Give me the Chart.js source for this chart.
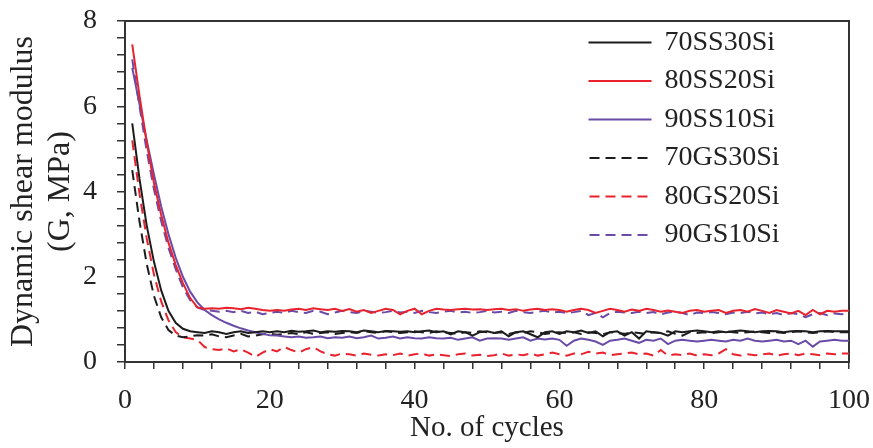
<!DOCTYPE html>
<html>
<head>
<meta charset="utf-8">
<script src="https://cdn.jsdelivr.net/npm/chart.js@4.4.1/dist/chart.umd.min.js"></script>
<style>
  html, body { margin: 0; padding: 0; background: #fff; }
  #wrap { width: 873px; height: 448px; position: relative; }
</style>
</head>
<body>
<div id="wrap"><canvas id="c"></canvas></div>
<script>
const cycles = Array.from({length: 100}, (_, i) => i + 1);

const s70SS30Si = [
  5.6, 4.3, 3.2, 2.35, 1.68, 1.2, 0.92, 0.78, 0.72, 0.7,
  0.68, 0.72, 0.7, 0.66, 0.7, 0.72, 0.68, 0.7, 0.72, 0.7,
  0.72, 0.7, 0.73, 0.71, 0.72, 0.74, 0.7, 0.72, 0.71, 0.73,
  0.72, 0.7, 0.74, 0.72, 0.7, 0.73, 0.72, 0.71, 0.72, 0.7,
  0.72, 0.74, 0.7, 0.72, 0.65, 0.72, 0.7, 0.62, 0.7, 0.72,
  0.68, 0.72, 0.6, 0.7, 0.72, 0.65, 0.58, 0.7, 0.72, 0.66,
  0.72, 0.7, 0.74, 0.68, 0.72, 0.6, 0.7, 0.72, 0.62, 0.7,
  0.55, 0.72, 0.7, 0.68, 0.62, 0.72, 0.7, 0.72, 0.74, 0.72,
  0.7, 0.72, 0.7, 0.72, 0.74, 0.72, 0.7, 0.72, 0.73, 0.72,
  0.7, 0.72, 0.73, 0.72, 0.7, 0.72, 0.73, 0.72, 0.72, 0.72
];

const s80SS20Si = [
  7.45, 6.25, 5.15, 4.2, 3.45, 2.8, 2.28, 1.85, 1.5, 1.28,
  1.25, 1.26, 1.25, 1.27, 1.26, 1.24, 1.27, 1.25, 1.22, 1.2,
  1.22, 1.2, 1.23, 1.25, 1.22, 1.26, 1.24, 1.22, 1.25, 1.2,
  1.24, 1.18, 1.22, 1.15, 1.2, 1.25, 1.22, 1.12, 1.2, 1.25,
  1.12, 1.2, 1.25, 1.23, 1.22, 1.24, 1.25, 1.23, 1.24, 1.22,
  1.24, 1.25, 1.22, 1.24, 1.2, 1.23, 1.25, 1.22, 1.24, 1.22,
  1.18, 1.22, 1.25, 1.22, 1.15, 1.2, 1.25, 1.22, 1.18, 1.23,
  1.2, 1.25, 1.22, 1.18, 1.21, 1.18, 1.15, 1.2, 1.22, 1.18,
  1.2, 1.22, 1.15, 1.2, 1.22, 1.18, 1.24, 1.2, 1.15, 1.22,
  1.18, 1.14, 1.2, 1.1, 1.22, 1.12, 1.2, 1.18, 1.2, 1.2
];

const s90SS10Si = [
  6.9, 6.05, 5.2, 4.4, 3.65, 3.0, 2.45, 2.0, 1.65, 1.4,
  1.22, 1.1, 1.0, 0.92, 0.85, 0.79, 0.74, 0.7, 0.66, 0.63,
  0.62, 0.6, 0.58, 0.6, 0.57, 0.58, 0.6, 0.56, 0.58, 0.57,
  0.6, 0.56, 0.58, 0.62, 0.55, 0.57, 0.6, 0.55, 0.58, 0.56,
  0.55, 0.58, 0.56, 0.55, 0.57, 0.52, 0.55, 0.58, 0.5, 0.55,
  0.56, 0.55, 0.52, 0.55, 0.58, 0.5, 0.55, 0.53, 0.55, 0.52,
  0.38, 0.5, 0.55, 0.52, 0.48, 0.4, 0.5, 0.52, 0.55, 0.5,
  0.45, 0.52, 0.5, 0.55, 0.42, 0.5, 0.52, 0.5, 0.48, 0.5,
  0.52, 0.5, 0.48, 0.52, 0.5, 0.55, 0.5, 0.48, 0.5, 0.52,
  0.48, 0.5, 0.42, 0.5, 0.36, 0.48, 0.5, 0.52, 0.5, 0.5
];

const s70GS30Si = [
  4.5, 3.3, 2.3, 1.55, 1.05, 0.75, 0.62, 0.58, 0.6, 0.63,
  0.62, 0.65, 0.6, 0.58, 0.62, 0.66, 0.6, 0.62, 0.65, 0.66,
  0.64, 0.66, 0.68, 0.65, 0.7, 0.66, 0.68, 0.7, 0.66, 0.68,
  0.7, 0.68, 0.72, 0.7, 0.68, 0.72, 0.7, 0.68, 0.7, 0.72,
  0.7, 0.68, 0.72, 0.7, 0.68, 0.66, 0.7, 0.68, 0.72, 0.7,
  0.68, 0.7, 0.66, 0.7, 0.68, 0.72, 0.7, 0.66, 0.68, 0.7,
  0.68, 0.7, 0.66, 0.7, 0.68, 0.65, 0.7, 0.68, 0.66, 0.7,
  0.68, 0.66, 0.7, 0.68, 0.72, 0.66, 0.62, 0.7, 0.68, 0.7,
  0.68, 0.7, 0.72, 0.7, 0.68, 0.7, 0.72, 0.7, 0.68, 0.7,
  0.68, 0.7, 0.72, 0.7, 0.68, 0.7, 0.72, 0.7, 0.7, 0.7
];

const s80GS20Si = [
  5.2, 3.95, 2.9, 2.05, 1.42, 0.98, 0.7, 0.58, 0.55, 0.52,
  0.35, 0.3, 0.28, 0.32, 0.25, 0.3, 0.22, 0.12, 0.22, 0.3,
  0.25, 0.35, 0.28, 0.22, 0.3, 0.35, 0.25, 0.18, 0.15, 0.2,
  0.18, 0.15, 0.2, 0.17, 0.15, 0.18, 0.16, 0.2, 0.15, 0.18,
  0.2, 0.15, 0.18, 0.16, 0.14, 0.18, 0.2, 0.15, 0.17, 0.14,
  0.16, 0.2, 0.15, 0.18, 0.16, 0.2, 0.15, 0.18, 0.22, 0.18,
  0.15, 0.2, 0.18, 0.24, 0.2, 0.22, 0.16, 0.18, 0.2, 0.22,
  0.18, 0.2, 0.15, 0.28, 0.15, 0.18, 0.16, 0.2, 0.15, 0.18,
  0.16, 0.2, 0.3, 0.18, 0.15, 0.18, 0.16, 0.18, 0.2, 0.15,
  0.18, 0.2, 0.16, 0.2, 0.18, 0.16, 0.2, 0.18, 0.2, 0.2
];

const s90GS10Si = [
  7.1, 6.0, 4.95, 4.05, 3.3, 2.68, 2.18, 1.75, 1.45, 1.28,
  1.22, 1.2, 1.18, 1.2, 1.17, 1.2, 1.15, 1.18, 1.12, 1.15,
  1.18, 1.15, 1.2, 1.17, 1.15, 1.2, 1.18, 1.12, 1.16, 1.2,
  1.17, 1.15, 1.2, 1.18, 1.15, 1.17, 1.2, 1.16, 1.18, 1.15,
  1.2, 1.17, 1.15, 1.18, 1.2, 1.16, 1.18, 1.15, 1.17, 1.2,
  1.16, 1.18, 1.15, 1.2, 1.17, 1.15, 1.18, 1.2, 1.16, 1.18,
  1.15, 1.17, 1.2, 1.1, 1.15, 1.05, 1.15, 1.18, 1.16, 1.15,
  1.18, 1.15, 1.17, 1.12, 1.16, 1.18, 1.15, 1.1, 1.16, 1.15,
  1.17, 1.15, 1.12, 1.16, 1.15, 1.18, 1.14, 1.16, 1.12, 1.15,
  1.1, 1.15, 1.12, 1.05, 1.12, 1.15, 1.1, 1.14, 1.12, 1.15
];

const seriesNames = ['70SS30Si', '80SS20Si', '90SS10Si', '70GS30Si', '80GS20Si', '90GS10Si'];
const xTickLabels = [0, 20, 40, 60, 80, 100];
const yTickLabels = [0, 2, 4, 6, 8];

const BLACK = '#1c1c1c', RED = '#e8232e', PURPLE = '#6a4ca8';
const FONT = "'Liberation Serif', 'Times New Roman', serif";
const TXT = '#222';

function pts(arr) { return arr.map((v, i) => ({x: cycles[i], y: v})); }
function ds(label, arr, color, dashed) {
  return {
    label, data: pts(arr), borderColor: color, backgroundColor: color,
    borderWidth: 2, borderDash: dashed ? [10, 6] : [], pointRadius: 0,
    tension: 0, fill: false
  };
}

const legendMove = {
  id: 'legendMove',
  afterLayout(chart) {
    if (chart.legend) { chart.legend.left = 579; chart.legend.top = 18; }
  }
};

new Chart(document.getElementById('c'), {
  type: 'line',
  data: {
    datasets: [
      ds(seriesNames[0], s70SS30Si, BLACK, false),
      ds(seriesNames[1], s80SS20Si, RED, false),
      ds(seriesNames[2], s90SS10Si, PURPLE, false),
      ds(seriesNames[3], s70GS30Si, BLACK, true),
      ds(seriesNames[4], s80GS20Si, RED, true),
      ds(seriesNames[5], s90GS10Si, PURPLE, true)
    ]
  },
  options: {
    responsive: true,
    maintainAspectRatio: false,
    animation: false,
    layout: { padding: 0 },
    plugins: {
      tooltip: { enabled: false },
      legend: {
        position: 'chartArea',
        align: 'start',
        labels: {
          usePointStyle: false, boxWidth: 61, boxHeight: 0.001,
          font: { family: FONT, size: 28 }, color: TXT, padding: 10.5
        }
      }
    },
    scales: {
      x: {
        type: 'linear', position: 'bottom', min: 0, max: 100,
        afterFit(s) { s.height = 86; s.paddingLeft = 0; s.paddingRight = 0; },
        ticks: {
          stepSize: 4, autoSkip: false, maxRotation: 0, padding: 15,
          font: { family: FONT, size: 28 }, color: TXT,
          callback: v => xTickLabels.includes(v) ? String(v) : ''
        },
        grid: { drawOnChartArea: false, drawTicks: true, tickLength: 7, color: '#333', lineWidth: 1.5 },
        border: { display: true, color: '#333', width: 2 },
        title: { display: true, text: 'No. of cycles', color: TXT,
          font: { family: FONT, size: 29 }, padding: { top: 0, bottom: 2 } }
      },
      x2: {
        type: 'linear', position: 'top', min: 0, max: 100,
        afterFit(s) { s.height = 21; s.paddingLeft = 0; s.paddingRight = 0; },
        ticks: { display: false }, grid: { display: false },
        border: { display: true, color: '#333', width: 2 }
      },
      y: {
        type: 'linear', position: 'left', min: 0, max: 8,
        afterFit(s) { s.width = 125; s.paddingTop = 0; s.paddingBottom = 0; },
        ticks: {
          stepSize: 0.4, autoSkip: false, padding: 20,
          font: { family: FONT, size: 28 }, color: TXT,
          callback: v => {
            const r = Math.round(v);
            return (Math.abs(v - r) < 1e-6 && yTickLabels.includes(r)) ? String(r) : '';
          }
        },
        grid: { drawOnChartArea: false, drawTicks: true, tickLength: 8, color: '#333', lineWidth: 1.5 },
        border: { display: true, color: '#333', width: 2 },
        title: { display: true, text: ['Dynamic shear modulus', '(G, MPa)'], color: TXT,
          font: { family: FONT, size: 32, lineHeight: 1.15 }, padding: { top: 5, bottom: 0 } }
      },
      y2: {
        type: 'linear', position: 'right', min: 0, max: 8,
        afterFit(s) { s.width = 24; s.paddingTop = 0; s.paddingBottom = 0; },
        ticks: { display: false }, grid: { display: false },
        border: { display: true, color: '#333', width: 2 }
      }
    }
  },
  plugins: [legendMove]
});
</script>
</body>
</html>
